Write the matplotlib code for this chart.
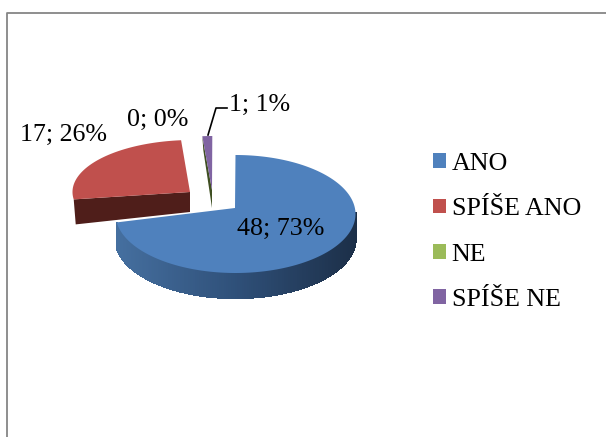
import numpy as np
import matplotlib
matplotlib.use('Agg')
import matplotlib.pyplot as plt
from matplotlib.patches import Polygon, Patch
from matplotlib.colors import to_rgb

categories = ['ANO', 'SPÍŠE ANO', 'NE', 'SPÍŠE NE']
values = [48, 17, 0, 1]
percents = [73, 26, 0, 1]
colors = ['#4F81BD', '#C0504D', '#9BBB59', '#8064A2']

plt.rcParams['font.family'] = ['Liberation Serif']

fig = plt.figure(figsize=(6.06, 4.37), dpi=100)
ax = fig.add_axes([0, 0, 1, 1])
ax.set_xlim(0, 606)
ax.set_ylim(437, 0)
ax.axis('off')

# outer frame, only top and left show in the crop
ax.plot([7, 7, 606], [437, 13, 13], color='#868686', lw=1.3)

depth = 25


# angles are clockwise from 12 o'clock, the pie is squashed to an ellipse
def rim(cx, cy, rx, ry, a0, a1):
    t = np.radians(np.linspace(a0, a1, 240))
    return cx + rx * np.sin(t), cy - ry * np.cos(t)


def mix(c1, c2, f):
    c1 = np.array(to_rgb(c1))
    c2 = np.array(to_rgb(c2))
    return tuple(c1 + (c2 - c1) * f)


total = sum(values)
ends = np.cumsum(values) / total * 360
starts = np.r_[0, ends[:-1]]

# SPÍŠE ANO - back left slice
x, y = rim(192.5, 192, 120, 52, starts[1], ends[1])
ax.add_patch(Polygon([(x[0], y[0]), (190, 192), (190, 192 + 20), (x[0] + 2, y[0] + 25)],
                     fc='#4F1E1A', ec='none'))
ax.add_patch(Polygon(np.r_[[(190, 192)], np.c_[x, y]], fc=colors[1], ec='none'))

# SPÍŠE NE and the empty NE slice that only shows its wall
x, y = rim(212 + 0.3, 188, 105, 52, starts[3], ends[3])
ax.add_patch(Polygon([(x[0], y[0]), (212, 190), (212, 208), (x[0] + 1, y[0] + 14)],
                     fc='#3F4F22', ec='none'))
ax.add_patch(Polygon(np.r_[[(212, 190)], np.c_[x, y]], fc=colors[3], ec='none'))

# ANO - front wall with shading, then the top
x, y = rim(235.5, 214, 120, 59, starts[0], ends[0])
keep = (y >= 214 - 2)
xs, ys = x[keep], y[keep]
for i in range(len(xs) - 1):
    f = (xs[i] - xs.min()) / (xs.max() - xs.min())
    if f < 0.5:
        c = mix('#456F9F', '#2F5079', f / 0.5)
    else:
        c = mix('#2F5079', '#1C2F48', (f - 0.5) / 0.5)
    ax.add_patch(Polygon([(xs[i], ys[i]), (xs[i + 1], ys[i + 1]),
                          (xs[i + 1], ys[i + 1] + depth), (xs[i], ys[i] + depth)],
                         fc=c, ec=c, lw=1.0, antialiased=False))
ax.add_patch(Polygon(np.r_[[(235, 208)], np.c_[x, y]], fc=colors[0], ec='none'))

# labels
ax.text(281, 229, f'{values[0]}; {percents[0]}%', fontsize=18.7, ha='center', va='center')
ax.text(63, 135, f'{values[1]}; {percents[1]}%', fontsize=18.7, ha='center', va='center')
ax.text(158, 120, f'{values[2]}; {percents[2]}%', fontsize=18.7, ha='center', va='center')
ax.text(260, 105, f'{values[3]}; {percents[3]}%', fontsize=18.7, ha='center', va='center')
ax.plot([208, 216, 227], [135, 108, 108], color='black', lw=1.2)

handles = [Patch(fc=c, ec='none') for c in colors]
ax.legend(handles, categories, loc='upper left', bbox_to_anchor=(425 / 606, 1 - 145 / 437),
          frameon=False, fontsize=18.7, handlelength=0.5, handleheight=0.5,
          handletextpad=0.23, labelspacing=0.9, borderpad=0.3, borderaxespad=0)

fig.savefig('out.png', dpi=100)
